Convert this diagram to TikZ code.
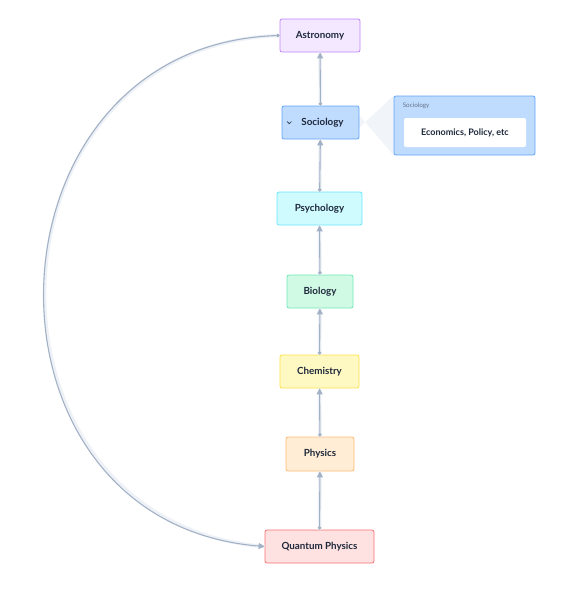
\documentclass[tikz,border=0pt]{standalone}
\usepackage{fontspec}
\setmainfont{Lato}
\usetikzlibrary{arrows.meta, positioning, backgrounds}
\definecolor{inkdark}{HTML}{1E293B}
\definecolor{edgegray}{HTML}{A3B1C6}
\definecolor{halogray}{HTML}{EEF2F7}
\definecolor{shadegray}{HTML}{F1F5F9}
\definecolor{labelgray}{HTML}{64748B}
\tikzset{
  topic/.style={
    rectangle, rounded corners=2pt, line width=0.8pt,
    minimum height=33pt, inner sep=0pt,
    align=center, text=inkdark, font=\fontsize{9.8}{11}\selectfont\bfseries
  },
  link/.style={
    {Circle[length=3.5pt]}-{Triangle[length=6pt,width=6pt]},
    line width=1.1pt, draw=edgegray,
    preaction={draw=halogray, line width=3.5pt, -}
  },
  panel/.style={
    rectangle, rounded corners=2pt, line width=0.8pt,
    fill={rgb,255:red,191;green,219;blue,254}, draw={rgb,255:red,96;green,165;blue,250}
  }
}

\begin{document}
\begin{tikzpicture}[x=1pt, y=-1pt]
  \useasboundingbox (0,0) rectangle (569,592);

  % topic chain
  \node[topic, fill={rgb,255:red,243;green,232;blue,255}, draw={rgb,255:red,192;green,132;blue,252},
    minimum width=80pt] (astro) at (320,35.5) {Astronomy};
  \node[topic, fill={rgb,255:red,191;green,219;blue,254}, draw={rgb,255:red,96;green,165;blue,250},
    minimum width=77pt] (soc) at (320.5,122.5) {\hspace{4pt}Sociology};
  \node[topic, fill={rgb,255:red,207;green,250;blue,254}, draw={rgb,255:red,103;green,232;blue,249},
    minimum width=85pt] (psy) at (319.5,208.5) {Psychology};
  \node[topic, fill={rgb,255:red,209;green,250;blue,229}, draw={rgb,255:red,110;green,231;blue,183},
    minimum width=66pt] (bio) at (320,291.5) {Biology};
  \node[topic, fill={rgb,255:red,254;green,249;blue,195}, draw={rgb,255:red,253;green,224;blue,71},
    minimum width=79pt] (chem) at (319.5,371.5) {Chemistry};
  \node[topic, fill={rgb,255:red,255;green,237;blue,213}, draw={rgb,255:red,253;green,186;blue,116},
    minimum width=68pt, minimum height=34pt] (phys) at (320,454) {Physics};
  \node[topic, fill={rgb,255:red,254;green,226;blue,226}, draw={rgb,255:red,248;green,113;blue,113},
    minimum width=109pt] (qp) at (319.5,546.5) {Quantum Physics};

  % collapse chevron
  \draw[inkdark, line width=0.6pt] ([xshift=5.5pt, yshift=1pt]soc.west) -- ++(2.2pt,-2.2pt) -- ++(2.2pt,2.2pt);

  % expanded group
  \node[panel, minimum width=141pt, minimum height=59pt] (grp) at (464.5,125.5) {};
  \node[anchor=north west, inner sep=0pt, text=labelgray, font=\fontsize{6.3}{7}\selectfont]
    (grplabel) at ([xshift=9pt, yshift=-7pt]grp.north west) {Sociology};
  \node[rectangle, rounded corners=2pt, fill=white, minimum width=122pt, minimum height=29pt,
    text=inkdark, font=\fontsize{9}{10}\selectfont\bfseries] (econ) at (465,132.5) {Economics, Policy, etc};

  \begin{scope}[on background layer]
    \fill[shadegray] ([yshift=-5pt]soc.east) -- (grp.north west) -- (grp.south west) -- ([yshift=7pt]soc.east) -- cycle;
  \end{scope}

  % edges
  \foreach \a/\b in {soc/astro, psy/soc, bio/psy, chem/bio, phys/chem, qp/phys}
    \draw[link] (\a) -- (\b);
  \draw[link] (astro.west) .. controls (-24,45) and (-38,522) .. (qp.west);
\end{tikzpicture}
\end{document}
